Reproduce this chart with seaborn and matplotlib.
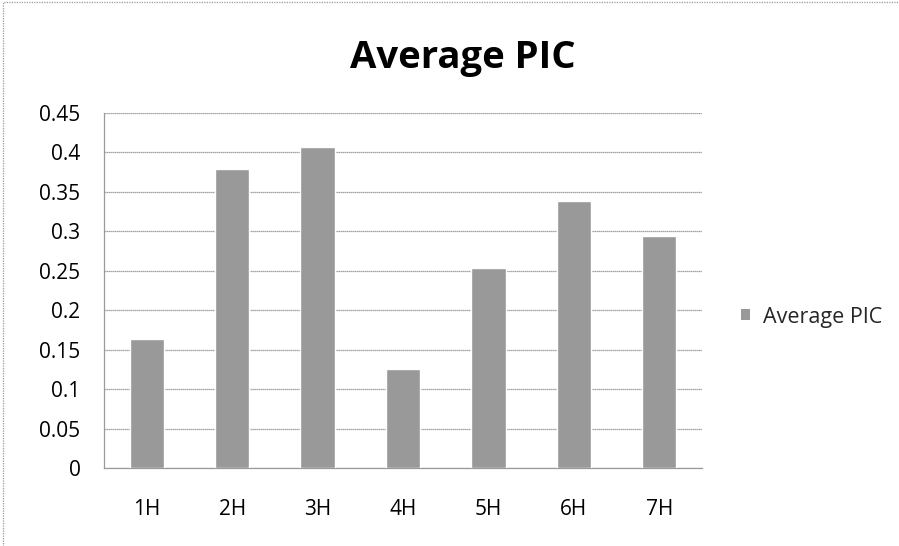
import matplotlib
matplotlib.use("Agg")
import matplotlib.pyplot as plt
from matplotlib.patches import Rectangle, Patch
from matplotlib.ticker import FixedLocator
import seaborn as sns
import pandas as pd

categories = ["1H", "2H", "3H", "4H", "5H", "6H", "7H"]
avg_pic = [0.163, 0.379, 0.407, 0.126, 0.254, 0.338, 0.294]
y_ticks = [0, 0.05, 0.1, 0.15, 0.2, 0.25, 0.3, 0.35, 0.4, 0.45]
y_labels = ["0", "0.05", "0.1", "0.15", "0.2", "0.25", "0.3", "0.35", "0.4", "0.45"]
series_name = "Average PIC"

df = pd.DataFrame({"category": categories, "value": avg_pic})

sns.set_theme(style="white")
plt.rcParams["font.family"] = ["Open Sans", "DejaVu Sans"]

fig = plt.figure(figsize=(8.99, 5.46), dpi=100)
ax = fig.add_axes([104 / 899, 1 - 468 / 546, (702 - 104) / 899, (468 - 113) / 546])

bar_color = "#999999"
sns.barplot(data=df, x="category", y="value", color=bar_color, width=0.4,
            saturation=1, ax=ax, zorder=3)

ax.set_ylim(0, 0.45)
ax.set_xlim(-0.5, len(categories) - 0.5)
ax.set_yticks(y_ticks)
ax.set_yticklabels(y_labels)
ax.yaxis.grid(True, color="#8a8a8a", linewidth=0.9, linestyle=(0, (1, 0.6)), zorder=0)
ax.set_xlabel("")
ax.set_ylabel("")

for side in ["top", "right"]:
    ax.spines[side].set_visible(False)
for side in ["left", "bottom"]:
    ax.spines[side].set_color("#9a9a9a")
    ax.spines[side].set_linewidth(0.9)

ax.tick_params(axis="x", which="major", length=0, pad=22, labelsize=15, colors="black")
ax.xaxis.set_minor_locator(FixedLocator([i - 0.5 for i in range(len(categories) + 1)]))
ax.tick_params(axis="x", which="minor", length=5, color="#9a9a9a", width=0.8, direction="out")
ax.tick_params(axis="y", which="major", length=5, color="#9a9a9a", width=0.8,
               direction="out", pad=12, labelsize=15, colors="black")

fig.text(463 / 899, 1 - 68 / 546, series_name, ha="center", va="baseline", fontsize=27.5,
         fontweight="bold", color="black")

handle = Patch(facecolor=bar_color, edgecolor="none")
fig.legend([handle], [series_name], loc="center left",
           bbox_to_anchor=(741 / 899, 1 - 317 / 546),
           frameon=False, fontsize=15.5, handlelength=0.4, handleheight=0.4,
           handletextpad=0.6, borderaxespad=0, borderpad=0)

# dotted chart-area border
fig.add_artist(Rectangle((3 / 899, -0.01), 1.1, 1.0 - 2 / 546 + 0.01, transform=fig.transFigure,
                         fill=False, edgecolor="#9a9a9a", linewidth=0.9,
                         linestyle=(0, (1, 1))))

fig.savefig("out.png", dpi=100)
